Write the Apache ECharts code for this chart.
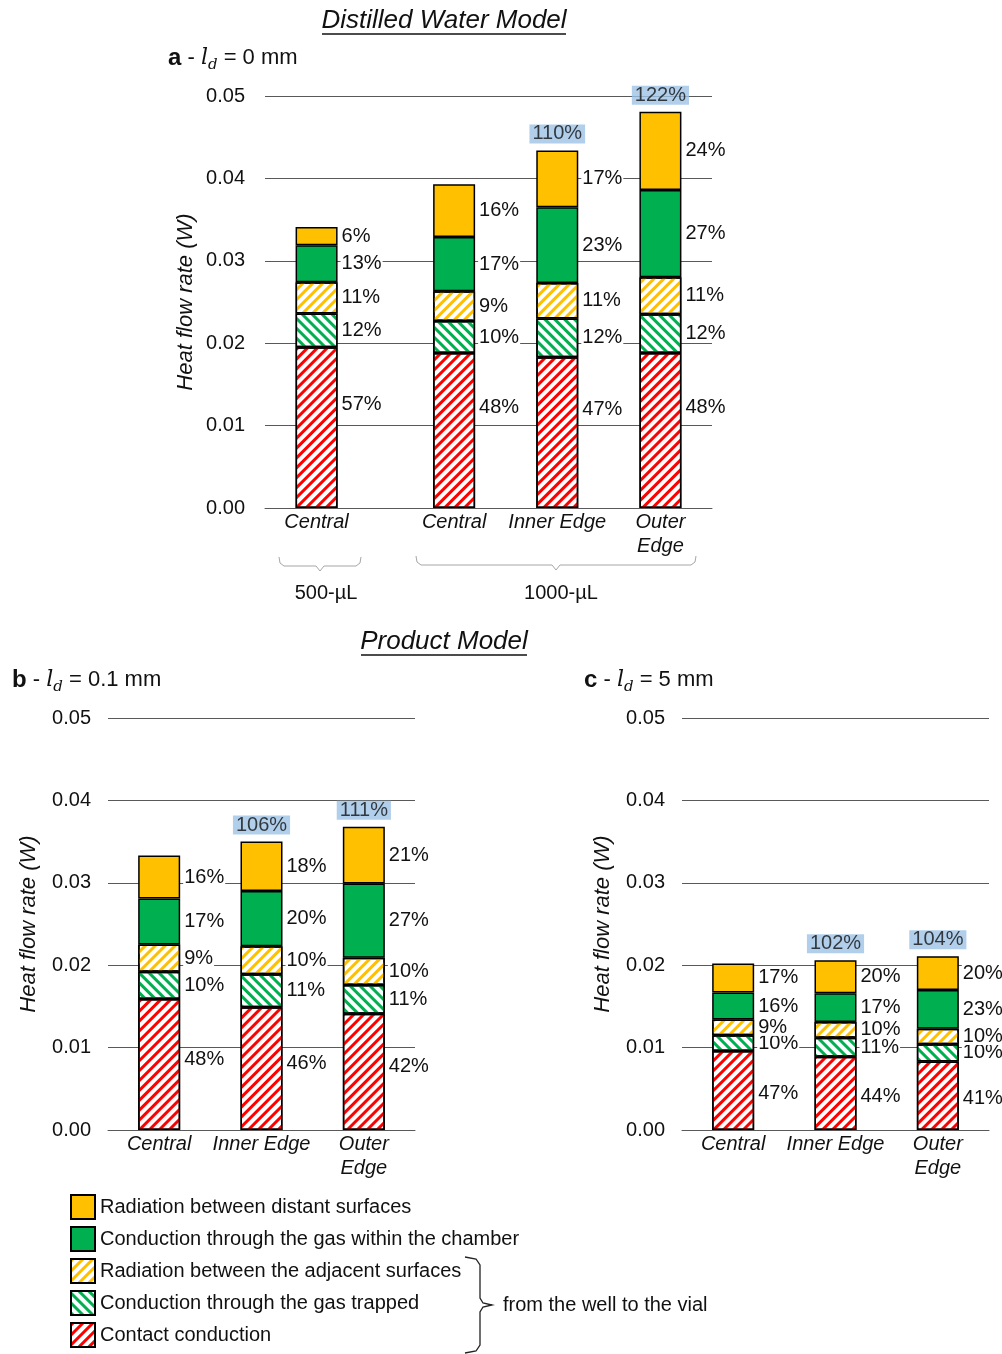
<!DOCTYPE html>
<html><head><meta charset="utf-8">
<script src="https://cdn.jsdelivr.net/npm/echarts@6/dist/echarts.min.js"></script>
<style>html,body{margin:0;padding:0;background:#fff}#c{width:1002px;height:1354px}</style>
</head><body><div id="c"></div>
<script>
// ---------------- data ----------------
const seriesNames = ['Contact conduction', 'Conduction through the gas trapped', 'Radiation between the adjacent surfaces', 'Conduction through the gas within the chamber', 'Radiation between distant surfaces'];
const legendNames = ['Radiation between distant surfaces', 'Conduction through the gas within the chamber', 'Radiation between the adjacent surfaces', 'Conduction through the gas trapped', 'Contact conduction'];
const yTickMin = 0, yTickMax = 0.05, yTickStep = 0.01;

// panel a (Distilled Water Model, l_d = 0 mm)
const catsA = ['Central', 'Central', 'Inner Edge', 'Outer\nEdge'];
const groupsA = ['500-µL', '1000-µL'];
const contactA = [0.0195, 0.0188, 0.0183, 0.0188];
const trappedA = [0.0041, 0.0039, 0.0047, 0.0047];
const adjRadA  = [0.0038, 0.0036, 0.0043, 0.0045];
const chamberA = [0.0045, 0.0066, 0.0092, 0.0106];
const distRadA = [0.0022, 0.0064, 0.0069, 0.0095];
const pctContactA = ['57%', '48%', '47%', '48%'];
const pctTrappedA = ['12%', '10%', '12%', '12%'];
const pctAdjRadA  = ['11%', '9%', '11%', '11%'];
const pctChamberA = ['13%', '17%', '23%', '27%'];
const pctDistRadA = ['6%', '16%', '17%', '24%'];
const totalPctA = ['', '', '110%', '122%'];

// panel b (Product Model, l_d = 0.1 mm)
const catsB = ['Central', 'Inner Edge', 'Outer\nEdge'];
const contactB = [0.0159, 0.0149, 0.0141];
const trappedB = [0.0033, 0.0040, 0.0035];
const adjRadB  = [0.0033, 0.0034, 0.0033];
const chamberB = [0.0056, 0.0067, 0.0090];
const distRadB = [0.0052, 0.0060, 0.0069];
const pctContactB = ['48%', '46%', '42%'];
const pctTrappedB = ['10%', '11%', '11%'];
const pctAdjRadB  = ['9%', '10%', '10%'];
const pctChamberB = ['17%', '20%', '27%'];
const pctDistRadB = ['16%', '18%', '21%'];
const totalPctB = ['', '106%', '111%'];

// panel c (Product Model, l_d = 5 mm)
const catsC = ['Central', 'Inner Edge', 'Outer\nEdge'];
const contactC = [0.0096, 0.0089, 0.0083];
const trappedC = [0.0019, 0.0023, 0.0021];
const adjRadC  = [0.0019, 0.0019, 0.0019];
const chamberC = [0.0033, 0.0035, 0.0047];
const distRadC = [0.0035, 0.0040, 0.0041];
const pctContactC = ['47%', '44%', '41%'];
const pctTrappedC = ['10%', '11%', '10%'];
const pctAdjRadC  = ['9%', '10%', '10%'];
const pctChamberC = ['16%', '17%', '23%'];
const pctDistRadC = ['17%', '20%', '20%'];
const totalPctC = ['', '102%', '104%'];

// ---------------- styles / layout ----------------
const YEL = '#FFC000', GRN = '#00B050', RED = '#FF0000';
const TXT = '#111';
const GRIDC = '#595959';
function hatch(color, dir) {
  return { symbol: 'rect', symbolSize: 1, dashArrayX: [1, 0], dashArrayY: [3, 4], rotation: dir * Math.PI / 4, color: color };
}
const BW = 1.5;
const segStyles = [
  { color: '#fff', borderColor: '#000', borderWidth: BW, decal: hatch(RED, -1) },
  { color: '#fff', borderColor: '#000', borderWidth: BW, decal: hatch(GRN, 1) },
  { color: '#fff', borderColor: '#000', borderWidth: BW, decal: hatch(YEL, -1) },
  { color: GRN, borderColor: '#000', borderWidth: BW },
  { color: YEL, borderColor: '#000', borderWidth: BW }
];

const panels = [
  { grid: { left: 265, top: 96, width: 447, height: 412 }, cats: catsA, slots: 13, slotIdx: [1, 5, 8, 11],
    vals: [contactA, trappedA, adjRadA, chamberA, distRadA],
    pcts: [pctContactA, pctTrappedA, pctAdjRadA, pctChamberA, pctDistRadA], tot: totalPctA, contactOff: -23, labelMargin: 20 },
  { grid: { left: 108, top: 718, width: 307, height: 412 }, cats: catsB, slots: 3, slotIdx: [0, 1, 2],
    vals: [contactB, trappedB, adjRadB, chamberB, distRadB],
    pcts: [pctContactB, pctTrappedB, pctAdjRadB, pctChamberB, pctDistRadB], tot: totalPctB, contactOff: -5, labelMargin: 17 },
  { grid: { left: 682, top: 718, width: 307, height: 412 }, cats: catsC, slots: 3, slotIdx: [0, 1, 2],
    vals: [contactC, trappedC, adjRadC, chamberC, distRadC],
    pcts: [pctContactC, pctTrappedC, pctAdjRadC, pctChamberC, pctDistRadC], tot: totalPctC, contactOff: 3, labelMargin: 17 }
];

const F = 'Liberation Sans, Arial, sans-serif';
const grids = [], xAxes = [], yAxes = [], series = [];
panels.forEach((p, pi) => {
  grids.push(p.grid);
  const axisCats = new Array(p.slots).fill('');
  p.slotIdx.forEach((s, i) => { axisCats[s] = p.cats[i]; });
  xAxes.push({
    type: 'category', gridIndex: pi, data: axisCats,
    axisTick: { show: false },
    axisLine: { lineStyle: { color: GRIDC, width: 1 } },
    axisLabel: { interval: 0, fontSize: 20, fontStyle: 'italic', color: TXT, lineHeight: 24, margin: 2, fontFamily: F }
  });
  yAxes.push({
    type: 'value', gridIndex: pi, min: yTickMin, max: yTickMax, interval: yTickStep,
    axisLine: { show: false }, axisTick: { show: false },
    axisLabel: { formatter: v => v.toFixed(2), fontSize: 20, color: TXT, margin: p.labelMargin, fontFamily: F },
    splitLine: { lineStyle: { color: GRIDC, width: 1 } },
    name: 'Heat flow rate (W)', nameLocation: 'middle', nameGap: 68,
    nameTextStyle: { fontStyle: 'italic', fontSize: 22, color: TXT, fontFamily: F }
  });
  const totals = new Array(p.slots).fill(null);
  p.vals.forEach((vals, k) => {
    const data = new Array(p.slots).fill('-');
    vals.forEach((v, i) => { data[p.slotIdx[i]] = { value: v, pct: p.pcts[k][i] }; });
    series.push({
      type: 'bar', name: seriesNames[k], xAxisIndex: pi, yAxisIndex: pi, stack: 'st' + pi,
      barWidth: 42, data: data, itemStyle: segStyles[k],
      label: {
        show: true, position: 'right', distance: 3, formatter: d => d.data.pct,
        fontSize: 20, color: TXT, lineHeight: 17, backgroundColor: '#fff', padding: [0, 1],
        fontFamily: F,
        offset: k === 0 ? [0, p.contactOff] : [0, 0]
      },
      emphasis: { disabled: true }, animation: false
    });
  });
  p.tot.forEach((t, i) => {
    if (t) {
      let s = 0; p.vals.forEach(v => { s += v[i]; });
      totals[p.slotIdx[i]] = { value: s, pct: t };
    }
  });
  series.push({
    type: 'scatter', name: 'total' + pi, xAxisIndex: pi, yAxisIndex: pi, symbolSize: 0, silent: true, z: 5,
    data: totals.map(d => d === null ? '-' : d),
    label: {
      show: true, position: 'top', distance: 7, formatter: d => d.data.pct,
      fontSize: 20, color: TXT, backgroundColor: '#9DC3E6', padding: [1, 3], lineHeight: 17,
      fontFamily: F
    },
    animation: false
  });
});

const BR = '#a6a6a6';
function panelLabel(letter, rest, x, y) {
  return {
    type: 'text', x: x, y: y, silent: true,
    style: {
      text: '{b|' + letter + '}{n| - }{i|l}{s|d}{n|' + rest + '}',
      verticalAlign: 'middle', align: 'left',
      rich: {
        b: { fontFamily: F, fontWeight: 'bold', fontSize: 24, lineHeight: 30, fill: TXT, verticalAlign: 'middle' },
        n: { fontFamily: F, fontSize: 22, lineHeight: 30, fill: TXT, verticalAlign: 'middle' },
        i: { fontFamily: 'DejaVu Serif, serif', fontStyle: 'italic', fontSize: 22, lineHeight: 30, fill: TXT, verticalAlign: 'middle' },
        s: { fontFamily: 'DejaVu Serif, serif', fontStyle: 'italic', fontSize: 15, lineHeight: 16, fill: TXT, verticalAlign: 'bottom' }
      }
    }
  };
}

const graphic = [
  { type: 'text', x: 444, y: 21, silent: true, style: { text: 'Distilled Water Model', font: 'italic 26px ' + F, fill: TXT, align: 'center', verticalAlign: 'middle' } },
  { type: 'line', silent: true, shape: { x1: 322, y1: 34, x2: 566, y2: 34 }, style: { stroke: TXT, lineWidth: 1.5 } },
  { type: 'text', x: 444, y: 642, silent: true, style: { text: 'Product Model', font: 'italic 26px ' + F, fill: TXT, align: 'center', verticalAlign: 'middle' } },
  { type: 'line', silent: true, shape: { x1: 361, y1: 655, x2: 527, y2: 655 }, style: { stroke: TXT, lineWidth: 1.5 } },
  panelLabel('a', ' = 0 mm', 168, 58),
  panelLabel('b', ' = 0.1 mm', 12, 680),
  panelLabel('c', ' = 5 mm', 584, 680),
  { type: 'polyline', silent: true, shape: { points: [[279, 557], [280, 563], [284, 566], [316, 566], [320, 571], [324, 566], [356, 566], [360, 563], [361, 557]] }, style: { stroke: BR, lineWidth: 1, fill: null } },
  { type: 'polyline', silent: true, shape: { points: [[416, 556], [417, 562], [421, 565], [552, 565], [556, 570], [560, 565], [691, 565], [695, 562], [696, 556]] }, style: { stroke: BR, lineWidth: 1, fill: null } },
  { type: 'text', x: 326, y: 593, silent: true, style: { text: groupsA[0], font: '20px ' + F, fill: TXT, align: 'center', verticalAlign: 'middle' } },
  { type: 'text', x: 561, y: 593, silent: true, style: { text: groupsA[1], font: '20px ' + F, fill: TXT, align: 'center', verticalAlign: 'middle' } },
  { type: 'polyline', silent: true, shape: { points: [[465, 1257], [476, 1259], [480, 1265], [480, 1298], [483, 1303], [492, 1305], [483, 1307], [480, 1312], [480, 1345], [476, 1351], [465, 1353]] }, style: { stroke: '#222', lineWidth: 1.3, fill: null } },
  { type: 'text', x: 503, y: 1305, silent: true, style: { text: 'from the well to the vial', font: '20px ' + F, fill: TXT, align: 'left', verticalAlign: 'middle' } }
];

const chart = echarts.init(document.getElementById('c'), null, { renderer: 'canvas' });
chart.setOption({
  backgroundColor: '#fff',
  animation: false,
  textStyle: { fontFamily: F },
  grid: grids, xAxis: xAxes, yAxis: yAxes, series: series,
  legend: {
    data: legendNames, orient: 'vertical', left: 70, top: 1194, padding: 0, height: 170,
    itemWidth: 24, itemHeight: 24, itemGap: 6, icon: 'rect', selectedMode: false,
    textStyle: { fontSize: 20, lineHeight: 24, color: TXT, fontFamily: F }
  },
  graphic: graphic
});
</script>
</body></html>
